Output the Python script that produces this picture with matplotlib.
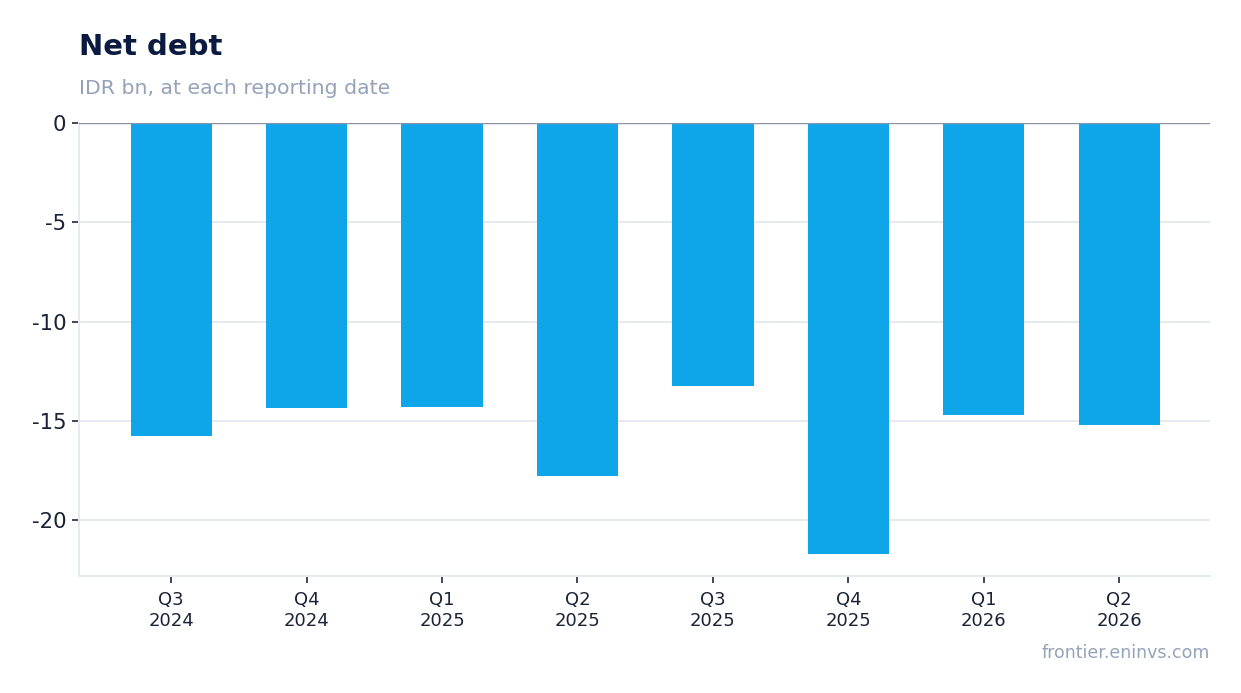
import matplotlib
matplotlib.use("Agg")
import matplotlib.pyplot as plt
import numpy as np

categories = ["Q3\n2024", "Q4\n2024", "Q1\n2025", "Q2\n2025", "Q3\n2025", "Q4\n2025", "Q1\n2026", "Q2\n2026"]
net_debt = [-15.77, -14.36, -14.31, -17.78, -13.25, -21.71, -14.71, -15.21]
yticks = [0, -5, -10, -15, -20]

fig = plt.figure(figsize=(12.41, 6.93), dpi=100)
ax = fig.add_axes([0.0637, 0.1688, 0.975 - 0.0637, 0.8225 - 0.1688])

x = np.arange(len(categories))
ax.bar(x, net_debt, width=0.6, color="#0ea5e9", zorder=3)
ax.axhline(0, color="#8a94a6", linewidth=1, zorder=4)

ax.set_xlim(-0.68, len(categories) - 1 + 0.67)
ax.set_ylim(-22.82, 0)
ax.set_yticks(yticks)
ax.set_yticklabels([str(v) for v in yticks])
ax.set_xticks(x)
ax.set_xticklabels(categories)

ax.grid(axis="y", color="#e5e9f0", linewidth=1.5, zorder=0)
for s in ["top", "right"]:
    ax.spines[s].set_visible(False)
for s in ["left", "bottom"]:
    ax.spines[s].set_color("#e5e9f0")
    ax.spines[s].set_linewidth(1.5)

ax.tick_params(axis="y", labelsize=15.3, colors="#1e293b", length=5, width=1.2, pad=4)
ax.tick_params(axis="x", labelsize=13, colors="#1e293b", length=5, width=1.2, pad=6)
for lab in ax.get_yticklabels() + ax.get_xticklabels():
    lab.set_color("#1a2236")

fig.text(0.0637, 0.921, "Net debt", fontsize=21, fontweight="bold", color="#0b1a40", ha="left", va="baseline")
fig.text(0.0637, 0.864, "IDR bn, at each reporting date", fontsize=14.7, color="#94a3b8", ha="left", va="baseline")
fig.text(0.975, 0.051, "frontier.eninvs.com", fontsize=12.5, color="#94a3b8", ha="right", va="baseline")

fig.savefig("out.png", dpi=100)
